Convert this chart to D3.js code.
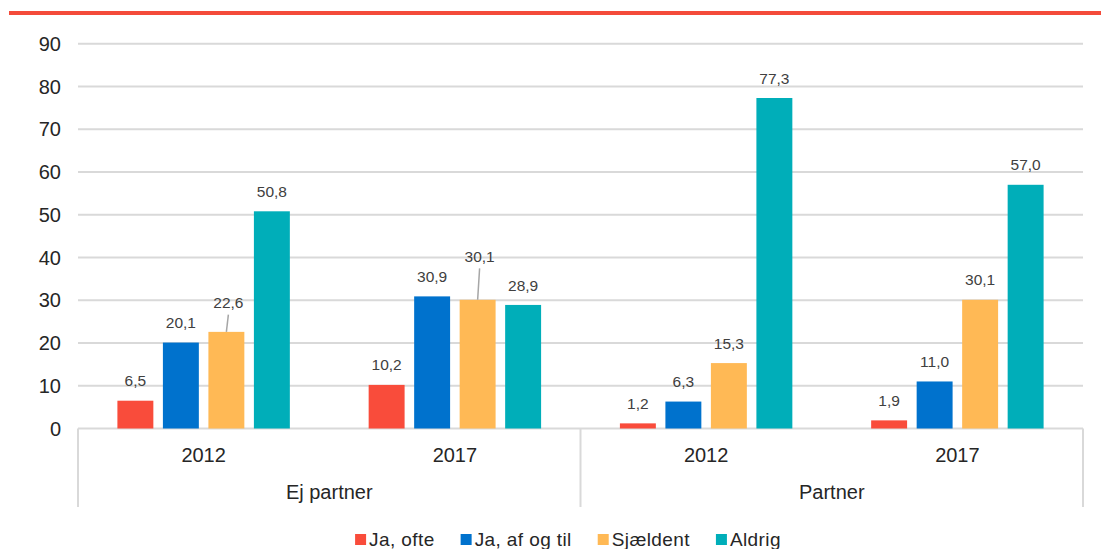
<!DOCTYPE html>
<html lang="da">
<head>
    <meta charset="utf-8" />
    <style>
        body { margin: 0; background: #fff; }
        svg { font-family: "Liberation Sans", Arial, sans-serif; display: block; }
        .grid line { stroke: #d9d9d9; stroke-width: 2px; }
        .tick-label { fill: #262626; font-size: 20px; }
        .cat-label { fill: #262626; font-size: 20px; }
        .val-label { fill: #404040; font-size: 15.5px; }
        .leader { stroke: #a6a6a6; stroke-width: 1.5px; }
        .sep { stroke: #d9d9d9; stroke-width: 2px; }
        .legend text { fill: #262626; font-size: 19px; letter-spacing: 0.4px; }
    </style>
</head>
<body>
<svg width="1101" height="549"></svg>
<script src="https://cdn.jsdelivr.net/npm/d3@7"></script>
<script>

    var groups = ["Ej partner", "Partner"];
    var years = ["2012", "2017"];
    var series = ["Ja, ofte", "Ja, af og til", "Sjældent", "Aldrig"];
    var colors = ["#f94c3b", "#0072cd", "#ffb955", "#00aeb9"];

    // one row per group/year, values in series order
    var ejPartner2012 = [6.5, 20.1, 22.6, 50.8];
    var ejPartner2017 = [10.2, 30.9, 30.1, 28.9];
    var partner2012 = [1.2, 6.3, 15.3, 77.3];
    var partner2017 = [1.9, 11.0, 30.1, 57.0];

    var yTicks = [0, 10, 20, 30, 40, 50, 60, 70, 80, 90];

    var rows = [
        { group: groups[0], year: years[0], values: ejPartner2012 },
        { group: groups[0], year: years[1], values: ejPartner2017 },
        { group: groups[1], year: years[0], values: partner2012 },
        { group: groups[1], year: years[1], values: partner2017 }
    ];
    rows.forEach(function(r, i) { r.key = i; });

    var svg = d3.select("svg");

    var plotLeft = 78, plotRight = 1083, plotTop = 43.7, plotBottom = 428.5;

    var x0 = d3.scaleBand()
        .domain(rows.map(function(r) { return r.key; }))
        .range([plotLeft, plotRight])
        .padding(0);

    var x1 = d3.scaleBand()
        .domain(series)
        .range([0, x0.bandwidth()])
        .paddingInner(0.21)
        .paddingOuter(0.866);

    var y = d3.scaleLinear().domain([0, 90]).range([plotBottom, plotTop]);

    var fmt = function(v) { return d3.format(".1f")(v).replace(".", ","); };

    // red top rule
    svg.append("rect")
        .attr("x", 9).attr("y", 11)
        .attr("width", 1092).attr("height", 4)
        .attr("fill", "#f44b3a");

    // gridlines + y labels
    var grid = svg.append("g").attr("class", "grid");
    grid.selectAll("line")
        .data(yTicks)
        .enter().append("line")
        .attr("x1", plotLeft).attr("x2", plotRight)
        .attr("y1", function(d) { return y(d); })
        .attr("y2", function(d) { return y(d); });

    svg.selectAll(".tick-label")
        .data(yTicks)
        .enter().append("text")
        .attr("class", "tick-label")
        .attr("x", 61)
        .attr("y", function(d) { return y(d); })
        .attr("dy", "0.36em")
        .attr("text-anchor", "end")
        .text(function(d) { return d; });

    // bars
    var rowG = svg.selectAll(".row")
        .data(rows)
        .enter().append("g")
        .attr("class", "row")
        .attr("transform", function(r) { return "translate(" + x0(r.key) + ",0)"; });

    rowG.selectAll("rect")
        .data(function(r) { return r.values.map(function(v, i) { return { s: series[i], v: v, i: i }; }); })
        .enter().append("rect")
        .attr("x", function(d) { return x1(d.s); })
        .attr("y", function(d) { return y(d.v); })
        .attr("width", x1.bandwidth())
        .attr("height", function(d) { return y(0) - y(d.v); })
        .attr("fill", function(d) { return colors[d.i]; });

    // value labels, lifted with a leader line when they crowd the previous label
    rowG.each(function(r) {
        var g = d3.select(this);
        var prevY = null;
        r.values.forEach(function(v, i) {
            var cx = x1(series[i]) + x1.bandwidth() / 2;
            var barTop = y(v);
            var ly = barTop - 20;
            var lifted = false;
            if (prevY !== null && Math.abs(ly - prevY) < 14) {
                ly = prevY - 20;
                lifted = true;
            }
            if (lifted) {
                g.append("line")
                    .attr("class", "leader")
                    .attr("x1", cx + 2).attr("x2", cx)
                    .attr("y1", ly + 12).attr("y2", barTop);
            }
            g.append("text")
                .attr("class", "val-label")
                .attr("x", cx + (lifted ? 2 : 0))
                .attr("y", ly)
                .attr("dy", "0.36em")
                .attr("text-anchor", "middle")
                .text(fmt(v));
            prevY = ly;
        });
    });

    // category axis: years
    svg.selectAll(".cat-label.year")
        .data(rows)
        .enter().append("text")
        .attr("class", "cat-label year")
        .attr("x", function(r) { return x0(r.key) + x0.bandwidth() / 2; })
        .attr("y", 462)
        .attr("text-anchor", "middle")
        .text(function(r) { return r.year; });

    // group labels + separators
    var groupW = x0.bandwidth() * 2;
    svg.selectAll(".cat-label.group")
        .data(groups)
        .enter().append("text")
        .attr("class", "cat-label group")
        .attr("x", function(d, i) { return plotLeft + groupW * i + groupW / 2; })
        .attr("y", 499)
        .attr("text-anchor", "middle")
        .text(function(d) { return d; });

    svg.selectAll(".sep")
        .data([0, 1, 2])
        .enter().append("line")
        .attr("class", "sep")
        .attr("x1", function(d) { return plotLeft + groupW * d; })
        .attr("x2", function(d) { return plotLeft + groupW * d; })
        .attr("y1", plotBottom)
        .attr("y2", 507);

    // legend
    var legend = svg.append("g").attr("class", "legend");
    var lx = 351;
    series.forEach(function(s, i) {
        var it = legend.append("g").attr("transform", "translate(" + lx + ",0)");
        it.append("rect")
            .attr("x", 0).attr("y", 534)
            .attr("width", 11).attr("height", 11)
            .attr("fill", colors[i]);
        var t = it.append("text")
            .attr("x", 14).attr("y", 546)
            .text(s);
        var w = t.node().getComputedTextLength();
        lx += 14 + w + 26;
    });
    // centre legend under plot
    var total = lx - 26 - 351;
    var shift = (351 + 785) / 2 - (351 + total / 2);
    legend.attr("transform", "translate(" + shift + ",0)");

</script>
</body>
</html>
